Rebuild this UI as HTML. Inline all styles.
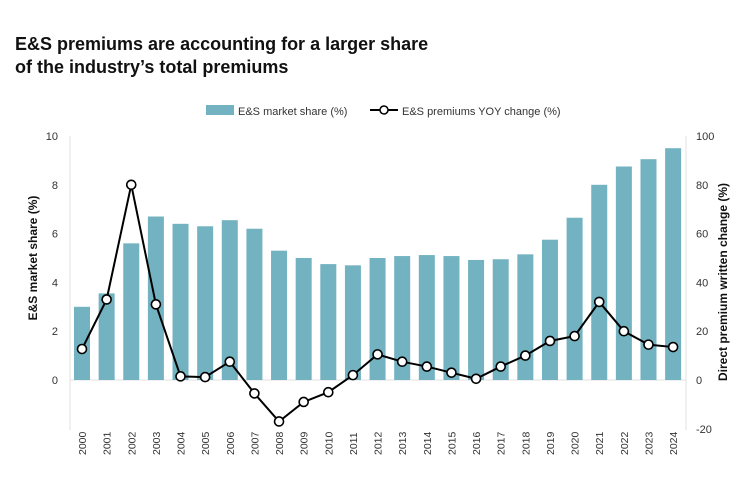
<!DOCTYPE html>
<html><head><meta charset="utf-8"><style>
body{margin:0;background:#fff;font-family:"Liberation Sans",sans-serif}
svg text{font-family:"Liberation Sans",sans-serif}
</style></head><body>
<svg width="748" height="488" id="c">
<text x="15" y="50" font-size="18" font-weight="bold" fill="#111">E&amp;S premiums are accounting for a larger share</text>
<text x="15" y="73" font-size="18" font-weight="bold" fill="#111">of the industry’s total premiums</text>
<g>
<rect x="206" y="105" width="28" height="10" fill="#73b2c0"/>
<text x="238" y="115" font-size="11" fill="#333">E&amp;S market share (%)</text>
<line x1="370" y1="110" x2="398" y2="110" stroke="#000" stroke-width="2"/>
<circle cx="384" cy="110" r="4" fill="#fff" stroke="#000" stroke-width="1.5"/>
<text x="402" y="115" font-size="11" fill="#333">E&amp;S premiums YOY change (%)</text>
</g>
<line x1="70" y1="136" x2="70" y2="430" stroke="#e2e2e2"/>
<line x1="686" y1="136" x2="686" y2="430" stroke="#e2e2e2"/>
<line x1="70" y1="380" x2="686" y2="380" stroke="#e2e2e2"/>
<text transform="translate(37,258) rotate(-90)" text-anchor="middle" font-size="12" font-weight="bold" fill="#111">E&amp;S market share (%)</text>
<text transform="translate(727,282) rotate(-90)" text-anchor="middle" font-size="12" font-weight="bold" fill="#111">Direct premium written change (%)</text>
<g id="g"></g>
</svg>
<script>
const years=["2000","2001","2002","2003","2004","2005","2006","2007","2008","2009","2010","2011","2012","2013","2014","2015","2016","2017","2018","2019","2020","2021","2022","2023","2024"];
const share=[3.0,3.55,5.6,6.7,6.4,6.3,6.55,6.2,5.3,5.0,4.75,4.7,5.0,5.08,5.12,5.08,4.92,4.95,5.15,5.75,6.65,8.0,8.75,9.05,9.5];
const yoy=[12.7,33,80,31,1.5,1.2,7.5,-5.5,-17,-9,-5,2,10.5,7.5,5.5,3,0.5,5.5,10,16,18,32,20,14.5,13.5];
const leftTicks=[0,2,4,6,8,10];
const rightTicks=[-20,0,20,40,60,80,100];
const ns="http://www.w3.org/2000/svg",g=document.getElementById("g");
const x=i=>82+i*24.63, yl=v=>380-v*24.4, yr=v=>380-v*2.44;
function mk(t,a,p){const e=document.createElementNS(ns,t);for(const k in a)e.setAttribute(k,a[k]);(p||g).appendChild(e);return e;}
leftTicks.forEach(v=>{const t=mk("text",{x:58,y:yl(v)+4,"text-anchor":"end","font-size":11,fill:"#333"});t.textContent=v;

});
rightTicks.forEach(v=>{const t=mk("text",{x:696,y:yr(v)+4,"text-anchor":"start","font-size":11,fill:"#333"});t.textContent=v;

});
share.forEach((v,i)=>{const r=mk("rect",{x:x(i)-8,y:yl(v),width:16,height:380-yl(v),fill:"#73b2c0"});

});
years.forEach((y,i)=>{const t=mk("text",{transform:`translate(${x(i)+4},455) rotate(-90)`,"font-size":10.5,fill:"#333"});t.textContent=y;

});
const pl=mk("polyline",{points:yoy.map((v,i)=>x(i)+","+yr(v)).join(" "),fill:"none",stroke:"#000","stroke-width":2});


yoy.forEach((v,i)=>{const c=mk("circle",{cx:x(i),cy:yr(v),r:4.5,fill:"#fff",stroke:"#000","stroke-width":1.6});

});
</script>
</body></html>
